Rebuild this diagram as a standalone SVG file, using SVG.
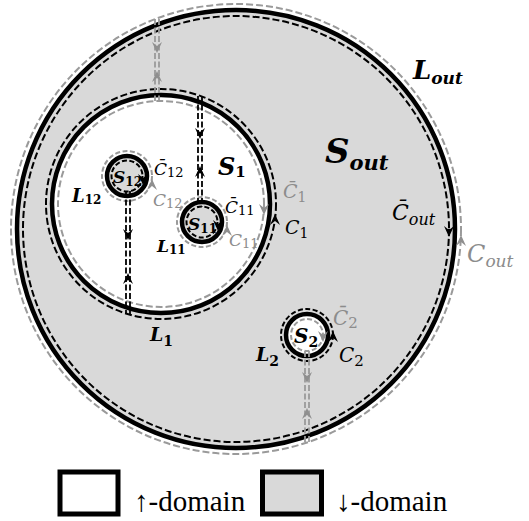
<svg xmlns="http://www.w3.org/2000/svg" width="529" height="521" viewBox="0 0 529 521">
<style>
.solid{fill:none;stroke:#000;stroke-width:4.5}
.bd{fill:none;stroke:#000;stroke-width:2;stroke-dasharray:7 3}
.gd{fill:none;stroke:#9a9a9a;stroke-width:2;stroke-dasharray:7 3}
.bds{fill:none;stroke:#000;stroke-width:2;stroke-dasharray:5 2.5}
.gds{fill:none;stroke:#9a9a9a;stroke-width:2;stroke-dasharray:5 2.5}
.cutb{fill:none;stroke:#000;stroke-width:1.8;stroke-dasharray:6 2.5}
.cutg{fill:none;stroke:#9a9a9a;stroke-width:1.8;stroke-dasharray:6 2.5}
.ab{fill:#000}
.ag{fill:#8f8f8f}
.m{font-family:"DejaVu Serif",serif;font-style:italic;fill:#000}
.mb{font-weight:bold}
.up{font-style:normal}
.g{fill:#8c8c8c}
.leg{font-family:"Liberation Serif","Times New Roman",serif;font-size:29px;fill:#000}
</style>
<defs>
<path id="ah" d="M0,0 L-5,-11 L0,-7 L5,-11 Z"/>
</defs>

<g id="S_out">
<circle cx="236" cy="229" r="219" fill="#d9d9d9"/>
<circle class="gd" cx="236" cy="229" r="225"/>
<circle class="solid" cx="236" cy="229" r="219"/>
<circle class="bd" cx="236" cy="229" r="213"/>
<use href="#ah" class="ab" transform="translate(449,237)"/>
<use href="#ah" class="ag" transform="translate(461,235) rotate(180)"/>
<text class="m mb" x="413" y="79" font-size="26">L<tspan font-size="17" dy="5">out</tspan></text>
<text class="m mb" x="325" y="163" font-size="34">S<tspan font-size="21" dy="7">out</tspan></text>
<text class="m" x="392" y="220" font-size="22">C&#x304;<tspan font-size="16" dy="5">out</tspan></text>
<text class="m g" x="467" y="262" font-size="24">C<tspan font-size="17" dy="5">out</tspan></text>
</g>

<g id="S_1">
<circle cx="161" cy="204" r="109" fill="#fff"/>
<circle class="bd" cx="161" cy="204" r="115"/>
<circle class="solid" cx="161" cy="204" r="109"/>
<circle class="gd" cx="161" cy="204" r="103"/>
<use href="#ah" class="ag" transform="translate(264,215)"/>
<use href="#ah" class="ab" transform="translate(275,214) rotate(180)"/>
<text class="m mb" x="218" y="175" font-size="24">S<tspan class="up" font-size="15" dy="2">1</tspan></text>
<text class="m mb" x="150" y="341" font-size="19">L<tspan class="up" font-size="14" dy="5">1</tspan></text>
<text class="m g" x="283" y="198" font-size="19">C&#x304;<tspan class="up" font-size="14" dy="4">1</tspan></text>
<text class="m" x="285" y="234" font-size="19">C<tspan class="up" font-size="14" dy="4">1</tspan></text>
</g>

<g id="S_12">
<circle cx="127" cy="176" r="20" fill="#d9d9d9"/>
<circle class="gds" cx="127" cy="176" r="25"/>
<circle class="solid" cx="127" cy="176" r="20"/>
<circle class="bds" cx="127" cy="176" r="15.5"/>
<use href="#ah" class="ab" transform="translate(143,185)"/>
<use href="#ah" class="ag" transform="translate(152,179) rotate(180)"/>
<text class="m mb" x="113" y="183" font-size="17">S<tspan class="up" font-size="12" dy="3">12</tspan></text>
<text class="m mb" x="72" y="202" font-size="18">L<tspan class="up" font-size="12" dy="2">12</tspan></text>
<text class="m" x="154" y="175" font-size="17">C&#x304;<tspan class="up" font-size="13" dy="2">12</tspan></text>
<text class="m g" x="153" y="206" font-size="17">C<tspan class="up" font-size="13" dy="2">12</tspan></text>
</g>

<g id="S_11">
<circle cx="202" cy="222" r="20" fill="#d9d9d9"/>
<circle class="gds" cx="202" cy="222" r="25"/>
<circle class="solid" cx="202" cy="222" r="20"/>
<circle class="bds" cx="202" cy="222" r="15.5"/>
<use href="#ah" class="ab" transform="translate(218,231)"/>
<use href="#ah" class="ag" transform="translate(227,225) rotate(180)"/>
<text class="m mb" x="188" y="230" font-size="17">S<tspan class="up" font-size="12" dy="3">11</tspan></text>
<text class="m mb" x="157" y="252" font-size="17">L<tspan class="up" font-size="12" dy="2">11</tspan></text>
<text class="m" x="225" y="213" font-size="17">C&#x304;<tspan class="up" font-size="13" dy="2">11</tspan></text>
<text class="m g" x="229" y="246" font-size="17">C<tspan class="up" font-size="13" dy="2">11</tspan></text>
</g>

<g id="S_2">
<circle cx="307" cy="335" r="21" fill="#fff"/>
<circle class="bds" cx="307" cy="335" r="26"/>
<circle class="solid" cx="307" cy="335" r="21"/>
<circle class="gds" cx="307" cy="335" r="16"/>
<use href="#ah" class="ag" transform="translate(323,342)"/>
<use href="#ah" class="ab" transform="translate(333,331) rotate(180)"/>
<text class="m mb" x="294" y="343" font-size="20">S<tspan class="up" font-size="14" dy="4">2</tspan></text>
<text class="m mb" x="256" y="361" font-size="19">L<tspan class="up" font-size="14" dy="5">2</tspan></text>
<text class="m g" x="333" y="325" font-size="20">C&#x304;<tspan class="up" font-size="15" dy="3">2</tspan></text>
<text class="m" x="339" y="362" font-size="20">C<tspan class="up" font-size="15" dy="4">2</tspan></text>
</g>

<g id="connectors">
<line class="cutg" x1="155" y1="19" x2="155" y2="101"/>
<line class="cutg" x1="159" y1="19" x2="159" y2="101"/>
<use href="#ah" class="ag" transform="translate(157,53)"/>
<use href="#ah" class="ag" transform="translate(157,71) rotate(180)"/>

<line class="cutb" x1="198" y1="96" x2="198" y2="207"/>
<line class="cutb" x1="202" y1="96" x2="202" y2="207"/>
<use href="#ah" class="ab" transform="translate(200,139)"/>
<use href="#ah" class="ab" transform="translate(200,166) rotate(180)"/>

<line class="cutb" x1="126" y1="191" x2="126" y2="314"/>
<line class="cutb" x1="130" y1="191" x2="130" y2="314"/>
<use href="#ah" class="ab" transform="translate(128,240)"/>
<use href="#ah" class="ab" transform="translate(128,273) rotate(180)"/>

<line class="cutg" x1="305" y1="351" x2="305" y2="443"/>
<line class="cutg" x1="309" y1="351" x2="309" y2="443"/>
<use href="#ah" class="ag" transform="translate(307,383)"/>
<use href="#ah" class="ag" transform="translate(307,408) rotate(180)"/>
</g>

<g id="legend_up">
<rect x="60" y="472" width="58" height="42" fill="#fff" stroke="#000" stroke-width="5"/>
<text class="leg" x="134" y="511">↑-domain</text>
</g>
<g id="legend_down">
<rect x="262.5" y="472" width="59" height="42" fill="#d9d9d9" stroke="#000" stroke-width="5"/>
<text class="leg" x="336" y="511">↓-domain</text>
</g>
</svg>
